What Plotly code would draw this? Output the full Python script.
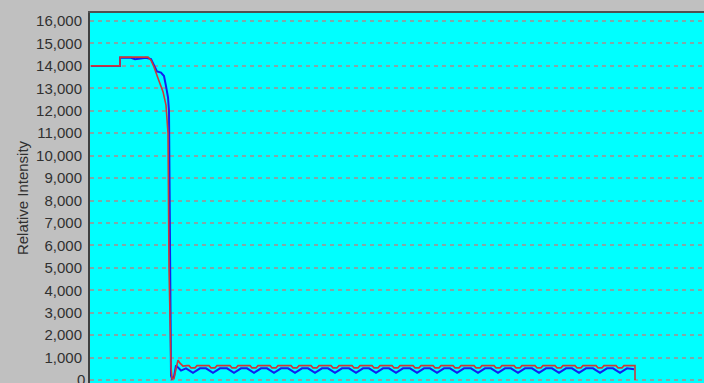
import plotly.graph_objects as go

# Relative intensity traces (time in scan units, intensity in counts)
red_t = [0, 29, 29, 57, 60, 63, 67, 72, 75, 77, 78, 80, 81, 83, 85, 87, 89, 92, 96,
         98, 100, 104, 106, 118, 120, 124, 126, 139, 141, 145, 147, 159, 161, 165, 167,
         179, 181, 185, 187, 200, 202, 206, 208, 220, 222, 226, 228, 240, 242, 246, 248,
         261, 263, 267, 269, 281, 283, 287, 289, 301, 303, 307, 309, 322, 324, 328, 330,
         342, 344, 348, 350, 362, 364, 368, 370, 383, 385, 389, 391, 403, 405, 409, 411,
         423, 425, 429, 431, 444, 446, 450, 452, 464, 466, 470, 472, 484, 486, 490, 492,
         505, 507, 511, 513, 525, 527, 531, 533, 544, 544]
red_v = [14000, 14000, 14390, 14390, 14250, 13950, 13450, 12850, 12250, 11000, 5000, 600, 60, 60, 500, 880, 750, 620, 640,
         640, 540, 540, 640, 640, 540, 540, 640, 640, 540, 540, 640, 640, 540, 540, 640,
         640, 540, 540, 640, 640, 540, 540, 640, 640, 540, 540, 640, 640, 540, 540, 640,
         640, 540, 540, 640, 640, 540, 540, 640, 640, 540, 540, 640, 640, 540, 540, 640,
         640, 540, 540, 640, 640, 540, 540, 640, 640, 540, 540, 640, 640, 540, 540, 640,
         640, 540, 540, 640, 640, 540, 540, 640, 640, 540, 540, 640, 640, 540, 540, 640,
         640, 540, 540, 640, 640, 540, 540, 640, 640, 0]

blue_t = [0, 29, 29, 40, 44, 48, 55, 60, 63, 66, 70, 73, 75, 77, 78, 79, 80, 81, 83, 85, 87, 90,
          95, 102, 109, 115, 122, 129, 136, 143, 150, 156, 163, 170, 176, 183, 190,
          197, 204, 211, 217, 224, 231, 237, 244, 251, 258, 265, 272, 278, 285, 292,
          298, 305, 312, 319, 326, 333, 339, 346, 353, 359, 366, 373, 380, 387, 394,
          400, 407, 414, 420, 427, 434, 441, 448, 455, 461, 468, 475, 481, 488, 495,
          502, 509, 516, 522, 529, 536, 543]
blue_v = [14000, 14000, 14360, 14360, 14300, 14330, 14360, 14300, 14050, 13750, 13700, 13550, 13100, 12600, 12000, 6000, 200, 60, 150, 650, 560, 420,
          520, 320, 520, 520, 320, 520, 520, 320, 520, 520, 320, 520, 520, 320, 520,
          520, 320, 520, 520, 320, 520, 520, 320, 520, 520, 320, 520, 520, 320, 520,
          520, 320, 520, 520, 320, 520, 520, 320, 520, 520, 320, 520, 520, 320, 520,
          520, 320, 520, 520, 320, 520, 520, 320, 520, 520, 320, 520, 520, 320, 520,
          520, 320, 520, 520, 320, 520, 480]

y_ticks = list(range(0, 16001, 1000))
y_labels = [f"{v:,}" for v in y_ticks]

fig = go.Figure()
fig.add_trace(go.Scatter(x=blue_t, y=blue_v, mode="lines",
                         line=dict(color="#1020F0", width=2), hoverinfo="skip"))
fig.add_trace(go.Scatter(x=red_t, y=red_v, mode="lines",
                         line=dict(color="#CC3838", width=1.6), hoverinfo="skip"))

# the bottom tick label sits on the lower edge of the figure, draw it explicitly
fig.add_annotation(x=0, xref="paper", xanchor="right", xshift=-3,
                   y=y_ticks[0], yref="y", yanchor="middle",
                   text=y_labels[0], showarrow=False,
                   font=dict(size=15, color="#303030"))

fig.update_layout(
    width=704, height=383,
    margin=dict(l=90, r=0, t=13, b=0),
    paper_bgcolor="#C0C0C0",
    plot_bgcolor="#00FFFF",
    showlegend=False,
    font=dict(family="Liberation Sans, Arial, sans-serif", color="#303030"),
    xaxis=dict(range=[-1, 613], side="top", showgrid=False, zeroline=False,
               showticklabels=False, ticks="", showline=True,
               linecolor="#505050", linewidth=2),
    yaxis=dict(range=[-134, 16357], tickmode="array", tickvals=y_ticks,
               ticktext=y_labels, tickfont=dict(size=15, color="#303030"),
               ticks="", ticklabelstandoff=3,
               showgrid=True, gridcolor="#7FA8A8", gridwidth=2, griddash="4px,4px",
               zeroline=False, showline=True, linecolor="#404040", linewidth=2,
               title=dict(text="Relative Intensity", font=dict(size=15, color="#303030"),
                          standoff=4)),
)

fig.write_html("out.html")
